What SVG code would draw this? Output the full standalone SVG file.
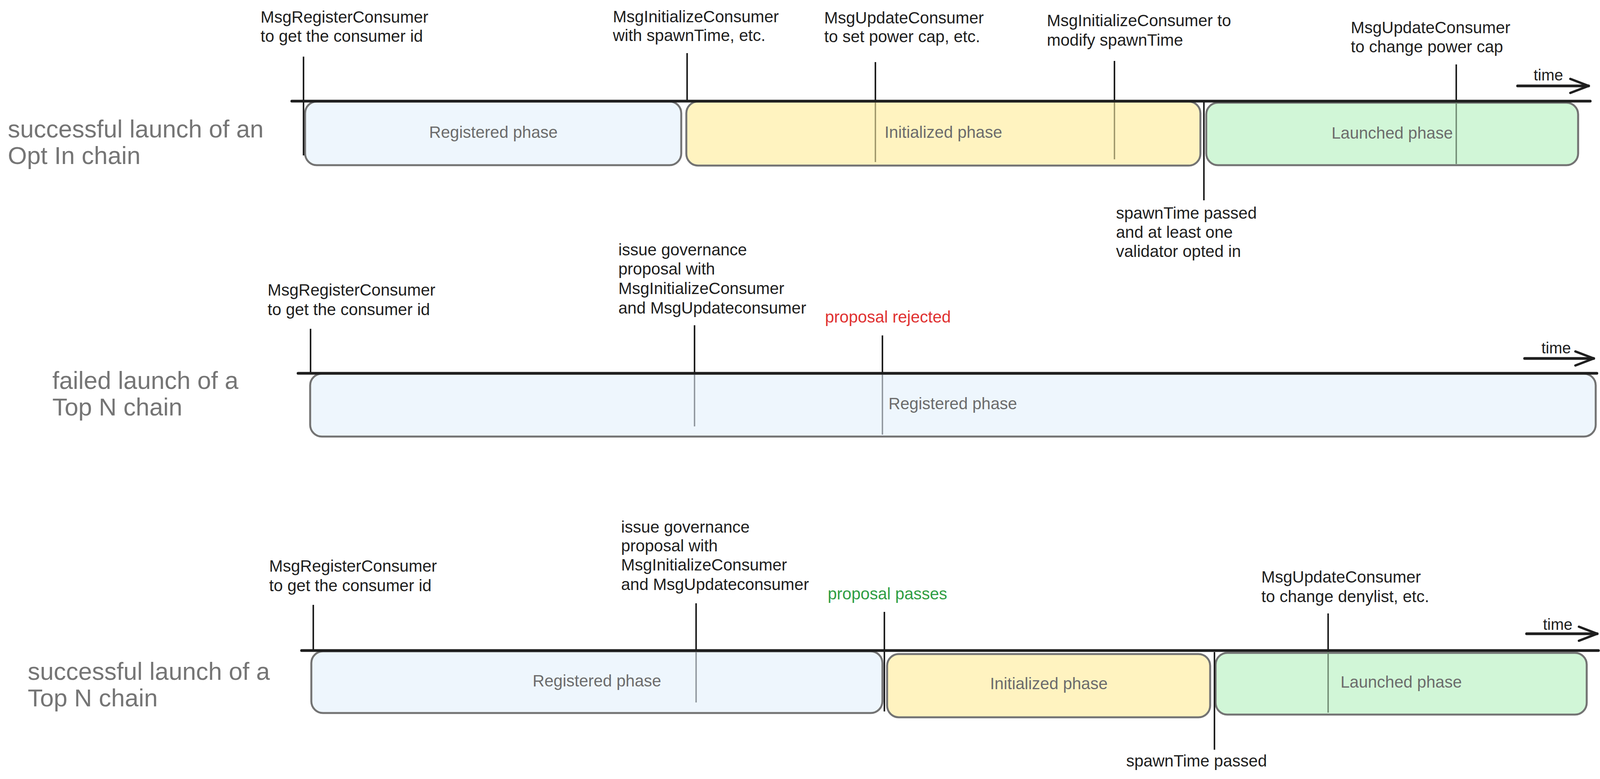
<svg xmlns="http://www.w3.org/2000/svg" width="4110" height="1995" viewBox="0 0 4110 1995">
<style>
text { font-family: "Liberation Sans", Arial, sans-serif; }
.ann { font-size: 42px; fill: #1e1e1e; }
.title { font-size: 63px; fill: #757575; }
.phase { font-size: 42px; fill: #6c6c6c; text-anchor: middle; }
.time { font-size: 40px; fill: #1e1e1e; }
.red { fill: #e03131; }
.green { fill: #2f9e44; }
.box { stroke: #737373; stroke-width: 5; }
.reg { fill: #eef6fd; }
.ini { fill: #fff3c0; }
.lau { fill: #d1f6d7; }
.axis { stroke: #1e1e1e; stroke-width: 7; stroke-linecap: round; fill: none; }
.tick { stroke: #1e1e1e; stroke-width: 4; fill: none; }
.inb { stroke: #8d949b; stroke-width: 3.5; }
.iny { stroke: #9c9468; stroke-width: 3.5; }
.ing { stroke: #6f8a72; stroke-width: 3.5; }
.arrow { stroke: #1e1e1e; stroke-width: 7; stroke-linecap: round; fill: none; marker-end: url(#chev); }
</style>
<defs>
<marker id="chev" markerUnits="userSpaceOnUse" markerWidth="56" markerHeight="44" viewBox="0 0 56 44" refX="52" refY="22" orient="auto">
<path d="M5,4 L52,22 L5,40" fill="none" stroke="#1e1e1e" stroke-width="6" stroke-linecap="round" stroke-linejoin="round"/>
</marker>
</defs>
<rect x="0" y="0" width="4110" height="1995" fill="#ffffff"/>

<!-- Row 1 boxes -->
<g id="r1-registered">
<rect class="box reg" x="781" y="260" width="963" height="163" rx="30"/>
<text class="phase" x="1263" y="353">Registered phase</text>
</g>
<g id="r1-initialized">
<rect class="box ini" x="1757" y="260" width="1316" height="164" rx="30"/>
<text class="phase" x="2415" y="353">Initialized phase</text>
</g>
<g id="r1-launched">
<rect class="box lau" x="3088" y="263" width="952" height="160" rx="30"/>
<text class="phase" x="3564" y="355">Launched phase</text>
</g>

<!-- Row 2 boxes -->
<g id="r2-registered">
<rect class="box reg" x="794" y="957" width="3291" height="161" rx="30"/>
<text class="phase" x="2439" y="1048">Registered phase</text>
</g>

<!-- Row 3 boxes -->
<g id="r3-registered">
<rect class="box reg" x="797" y="1668" width="1462" height="158" rx="30"/>
<text class="phase" x="1528" y="1758">Registered phase</text>
</g>
<g id="r3-initialized">
<rect class="box ini" x="2271" y="1675" width="827" height="162" rx="30"/>
<text class="phase" x="2685" y="1765">Initialized phase</text>
</g>
<g id="r3-launched">
<rect class="box lau" x="3112" y="1672" width="950" height="158" rx="30"/>
<text class="phase" x="3587" y="1761">Launched phase</text>
</g>

<g id="connectors">
<!-- inner (behind-fill look) tick segments -->
<line class="iny" x1="2241" y1="259" x2="2241" y2="415"/>
<line class="iny" x1="2853" y1="259" x2="2853" y2="408"/>
<line class="ing" x1="3728" y1="259" x2="3728" y2="420"/>
<line class="inb" x1="1778" y1="956" x2="1778" y2="1092"/>
<line class="inb" x1="2259" y1="956" x2="2259" y2="1113"/>
<line class="inb" x1="1782" y1="1666" x2="1782" y2="1799"/>
<line class="ing" x1="3400" y1="1666" x2="3400" y2="1825"/>

<!-- axes -->
<line class="axis" x1="747" y1="259" x2="4071" y2="259"/>
<line class="axis" x1="763" y1="956" x2="4088" y2="956"/>
<line class="axis" x1="772" y1="1666" x2="4092" y2="1666"/>

<!-- ticks row 1 -->
<line class="tick" x1="777" y1="145" x2="777" y2="398"/>
<line class="tick" x1="1759" y1="136" x2="1759" y2="259"/>
<line class="tick" x1="2241" y1="159" x2="2241" y2="259"/>
<line class="tick" x1="2853" y1="156" x2="2853" y2="259"/>
<line class="tick" x1="3082" y1="261" x2="3082" y2="513"/>
<line class="tick" x1="3728" y1="165" x2="3728" y2="259"/>

<!-- ticks row 2 -->
<line class="tick" x1="795" y1="842" x2="795" y2="956"/>
<line class="tick" x1="1778" y1="833" x2="1778" y2="956"/>
<line class="tick" x1="2259" y1="859" x2="2259" y2="956"/>

<!-- ticks row 3 -->
<line class="tick" x1="802" y1="1549" x2="802" y2="1668"/>
<line class="tick" x1="1782" y1="1545" x2="1782" y2="1666"/>
<line class="tick" x1="2264" y1="1567" x2="2264" y2="1822"/>
<line class="tick" x1="3109" y1="1670" x2="3109" y2="1920"/>
<line class="tick" x1="3400" y1="1571" x2="3400" y2="1666"/>

<!-- time arrows -->
<line class="arrow" x1="3885" y1="220" x2="4067" y2="220"/>
<line class="arrow" x1="3903" y1="918" x2="4080" y2="918"/>
<line class="arrow" x1="3908" y1="1623" x2="4089" y2="1623"/>
</g>

<!-- Row titles -->
<g id="r1-title">
<text class="title" x="20" y="352">successful launch of an</text>
<text class="title" x="20" y="420">Opt In chain</text>
</g>
<g id="r2-title">
<text class="title" x="134" y="996">failed launch of a</text>
<text class="title" x="134" y="1064">Top N chain</text>
</g>
<g id="r3-title">
<text class="title" x="71" y="1741">successful launch of a</text>
<text class="title" x="71" y="1809">Top N chain</text>
</g>

<!-- Row 1 annotations -->
<g id="r1-a1">
<text class="ann" x="667" y="58">MsgRegisterConsumer</text>
<text class="ann" x="667" y="107">to get the consumer id</text>
</g>
<g id="r1-a2">
<text class="ann" x="1569" y="57">MsgInitializeConsumer</text>
<text class="ann" x="1569" y="105">with spawnTime, etc.</text>
</g>
<g id="r1-a3">
<text class="ann" x="2110" y="60">MsgUpdateConsumer</text>
<text class="ann" x="2110" y="108">to set power cap, etc.</text>
</g>
<g id="r1-a4">
<text class="ann" x="2680" y="67">MsgInitializeConsumer to</text>
<text class="ann" x="2680" y="117">modify spawnTime</text>
</g>
<g id="r1-a5">
<text class="ann" x="3458" y="85">MsgUpdateConsumer</text>
<text class="ann" x="3458" y="134">to change power cap</text>
</g>
<g id="r1-a6">
<text class="ann" x="2857" y="560">spawnTime passed</text>
<text class="ann" x="2857" y="609">and at least one</text>
<text class="ann" x="2857" y="658">validator opted in</text>
</g>
<g id="r1-time"><text class="time" x="3926" y="206">time</text></g>

<!-- Row 2 annotations -->
<g id="r2-a1">
<text class="ann" x="685" y="757">MsgRegisterConsumer</text>
<text class="ann" x="685" y="807">to get the consumer id</text>
</g>
<g id="r2-a2">
<text class="ann" x="1583" y="654">issue governance</text>
<text class="ann" x="1583" y="703">proposal with</text>
<text class="ann" x="1583" y="753">MsgInitializeConsumer</text>
<text class="ann" x="1583" y="803">and MsgUpdateconsumer</text>
</g>
<g id="r2-a3"><text class="ann red" x="2112" y="826">proposal rejected</text></g>
<g id="r2-time"><text class="time" x="3946" y="905">time</text></g>

<!-- Row 3 annotations -->
<g id="r3-a1">
<text class="ann" x="689" y="1464">MsgRegisterConsumer</text>
<text class="ann" x="689" y="1514">to get the consumer id</text>
</g>
<g id="r3-a2">
<text class="ann" x="1590" y="1364">issue governance</text>
<text class="ann" x="1590" y="1412">proposal with</text>
<text class="ann" x="1590" y="1461">MsgInitializeConsumer</text>
<text class="ann" x="1590" y="1511">and MsgUpdateconsumer</text>
</g>
<g id="r3-a3"><text class="ann green" x="2119" y="1535">proposal passes</text></g>
<g id="r3-a4">
<text class="ann" x="3229" y="1492">MsgUpdateConsumer</text>
<text class="ann" x="3229" y="1542">to change denylist, etc.</text>
</g>
<g id="r3-a5"><text class="ann" x="2883" y="1963">spawnTime passed</text></g>
<g id="r3-time"><text class="time" x="3950" y="1613">time</text></g>
</svg>
